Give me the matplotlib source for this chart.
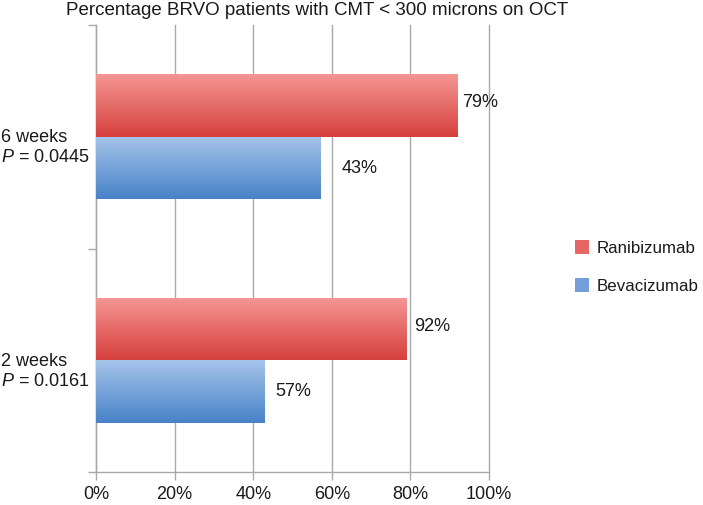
import numpy as np
from matplotlib import pyplot as plt
from matplotlib.patches import Patch
from matplotlib import transforms

plt.rcParams['font.family'] = ['Liberation Sans', 'DejaVu Sans']
plt.rcParams['mathtext.fontset'] = 'custom'
plt.rcParams['mathtext.rm'] = 'Liberation Sans'
plt.rcParams['mathtext.it'] = 'Liberation Sans:italic'

# data
groups = ['2 weeks', '6 weeks']
p_values = ['0.0161', '0.0445']
series = ['Ranibizumab', 'Bevacizumab']
ranibizumab = [79, 92]
bevacizumab = [43, 57]
# the printed labels in the original do not match the bar lengths
rani_labels = ['92%', '79%']
beva_labels = ['57%', '43%']
xticks = [0, 20, 40, 60, 80, 100]

# gradient colours (top -> bottom)
red_top, red_bot = (0.96, 0.59, 0.58), (0.84, 0.25, 0.24)
blue_top, blue_bot = (0.65, 0.77, 0.92), (0.28, 0.51, 0.78)
grid_col = '#a9a9a9'
txt_col = '#1a1a1a'
fs = 13

fig = plt.figure(figsize=(7.03, 5.05), dpi=100)
ax = fig.add_axes([96 / 703, 33 / 505, 393 / 703, 447 / 505])

h = 0.28
y = np.arange(len(groups))
bars_r = ax.barh(y + h / 2, ranibizumab, height=h, color='none', edgecolor='none')
bars_b = ax.barh(y - h / 2, bevacizumab, height=h, color='none', edgecolor='none')


def fill_gradient(bars, top, bot):
    grad = np.linspace(0, 1, 100)[:, None]
    img = np.zeros((100, 1, 3))
    for i in range(3):
        img[:, 0, i] = top[i] + (bot[i] - top[i]) * grad[:, 0]
    for b in bars:
        x0, y0 = b.get_x(), b.get_y()
        w, hh = b.get_width(), b.get_height()
        im = ax.imshow(img, extent=[x0, x0 + w, y0, y0 + hh], aspect='auto',
                       origin='upper', zorder=3, interpolation='bilinear')
        im.set_clip_path(b)


fill_gradient(bars_r, red_top, red_bot)
fill_gradient(bars_b, blue_top, blue_bot)

ax.set_xlim(0, 100)
ax.set_ylim(-0.5, len(groups) - 0.5)

# value labels (pixel offsets from bar end, as in the original)
pad_r = [8, 5]
pad_b = [10, 22]
for i, b in enumerate(bars_r):
    ax.annotate(rani_labels[i], (b.get_width(), b.get_y() + b.get_height() / 2),
                xytext=(pad_r[i] * 0.72, 2), textcoords='offset points',
                va='center', ha='left', fontsize=fs, color=txt_col)
for i, b in enumerate(bars_b):
    ax.annotate(beva_labels[i], (b.get_width(), b.get_y() + b.get_height() / 2),
                xytext=(pad_b[i] * 0.72, 0), textcoords='offset points',
                va='center', ha='left', fontsize=fs, color=txt_col)

# axes styling
ax.set_xticks(xticks)
ax.set_xticklabels([f'{v}%' for v in xticks], fontsize=fs, color=txt_col)
ax.set_yticks([-0.5, 0.5, 1.5])
ax.set_yticklabels([])
ax.tick_params(axis='both', color=grid_col, length=6, width=1)
ax.tick_params(axis='x', pad=4)
ax.grid(axis='x', color=grid_col, linewidth=1)
for gl in ax.get_xgridlines():
    gl.set_clip_on(False)
ax.set_axisbelow(True)
for s in ['top', 'right']:
    ax.spines[s].set_visible(False)
for s in ['left', 'bottom']:
    ax.spines[s].set_color(grid_col)
    ax.spines[s].set_linewidth(1)

# category labels
trans = transforms.blended_transform_factory(fig.transFigure, ax.transData)
for i, g in enumerate(groups):
    ax.annotate(g + '\n$P$ = ' + p_values[i], (0.0, y[i]), xycoords=trans,
                xytext=(0.5, -8), textcoords='offset points',
                va='center', ha='left', fontsize=fs, color=txt_col,
                linespacing=1.25)

fig.text(317.5 / 703, 1 - 10.5 / 505, 'Percentage BRVO patients with CMT < 300 microns on OCT',
         ha='center', va='center', fontsize=13.5, color=txt_col)

handles = [Patch(facecolor=(0.90, 0.40, 0.40), edgecolor='none'),
           Patch(facecolor=(0.45, 0.62, 0.85), edgecolor='none')]
fig.legend(handles, series, loc='center left', bbox_to_anchor=(575 / 703, 1 - 267 / 505),
           frameon=False, fontsize=12.2, handlelength=0.85, handleheight=0.85,
           handletextpad=0.4, labelspacing=1.3, borderpad=0, borderaxespad=0,
           labelcolor=txt_col)

plt.savefig('out.png', dpi=100)
